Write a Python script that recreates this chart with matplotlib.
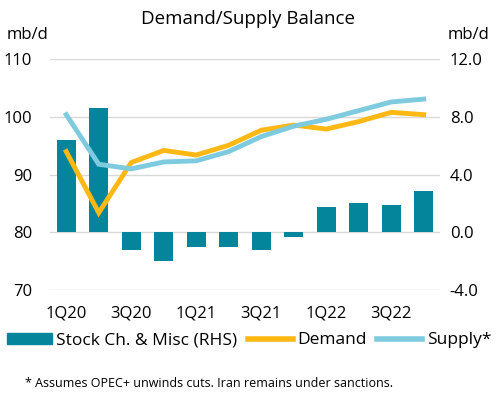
import matplotlib
matplotlib.use("Agg")
import matplotlib.pyplot as plt
from matplotlib.patches import Patch
from matplotlib.lines import Line2D
import numpy as np

plt.rcParams['font.family'] = ['Open Sans', 'DejaVu Sans']

quarters = ["1Q20", "2Q20", "3Q20", "4Q20", "1Q21", "2Q21", "3Q21", "4Q21",
            "1Q22", "2Q22", "3Q22", "4Q22"]
stock_change = [6.4, 8.6, -1.2, -2.0, -1.0, -1.05, -1.2, -0.35, 1.75, 2.05, 1.9, 2.9]
demand = [94.0, 83.4, 92.1, 94.2, 93.4, 95.1, 97.7, 98.6, 97.9, 99.2, 100.8, 100.4]
supply = [100.4, 91.8, 91.0, 92.2, 92.4, 94.0, 96.6, 98.4, 99.6, 101.1, 102.6, 103.1]
xtick_labels = ["1Q20", "3Q20", "1Q21", "3Q21", "1Q22", "3Q22"]

bar_color = "#05859B"
demand_color = "#FDB813"
supply_color = "#7ECBE0"

fig = plt.figure(figsize=(4.98, 3.99), dpi=100)
ax = fig.add_axes([0.1004, 0.2732, 0.7831, 0.5782])
ax2 = ax.twinx()

x = np.arange(len(quarters))
for v in [-4, 0, 4, 8, 12]:
    ax2.axhline(v, color="#D9D9D9", lw=1, zorder=0)
ax2.bar(x, stock_change, width=0.58, color=bar_color, zorder=1)
ax.plot(x, demand, color=demand_color, lw=3.5, zorder=3, solid_joinstyle='miter')
ax.plot(x, supply, color=supply_color, lw=3.5, zorder=3, solid_joinstyle='miter')

ax.set_zorder(ax2.get_zorder() + 1)
ax.patch.set_visible(False)

ax.set_xlim(-0.5, len(quarters) - 0.5)
ax.set_ylim(70, 110)
ax2.set_ylim(-4, 12)
ax.set_yticks([70, 80, 90, 100, 110])
ax2.set_yticks([-4, 0, 4, 8, 12])
ax2.set_yticklabels([f"{v:.1f}" for v in [-4, 0, 4, 8, 12]])
ax.set_xticks(x[::2])
ax.set_xticklabels(xtick_labels)

for a in (ax, ax2):
    for s in a.spines.values():
        s.set_visible(False)
    a.tick_params(length=0, labelsize=12, colors="#000000")
    a.grid(False)
ax.tick_params(axis='y', pad=13)
ax2.tick_params(axis='y', pad=7)
ax.tick_params(axis='x', pad=11)

fig.text(0.497, 0.952, "Demand/Supply Balance", ha='center', va='center', fontsize=13.5)
fig.text(0.014, 0.912, "mb/d", ha='left', va='center', fontsize=12)
fig.text(0.898, 0.912, "mb/d", ha='left', va='center', fontsize=12)

handles = [Patch(color=bar_color),
           Line2D([0], [0], color=demand_color, lw=4),
           Line2D([0], [0], color=supply_color, lw=4)]
labels = ["Stock Ch. & Misc (RHS)", "Demand", "Supply*"]
fig.legend(handles, labels, loc='center', bbox_to_anchor=(0.5, 0.147), ncol=3,
           frameon=False, fontsize=12.5, handlelength=2.6, handleheight=0.6,
           handletextpad=0.25, columnspacing=0.6, borderpad=0)

fig.text(0.05, 0.04, "* Assumes OPEC+ unwinds cuts. Iran remains under sanctions.",
         ha='left', va='center', fontsize=9)

fig.savefig("out.png", dpi=100)
